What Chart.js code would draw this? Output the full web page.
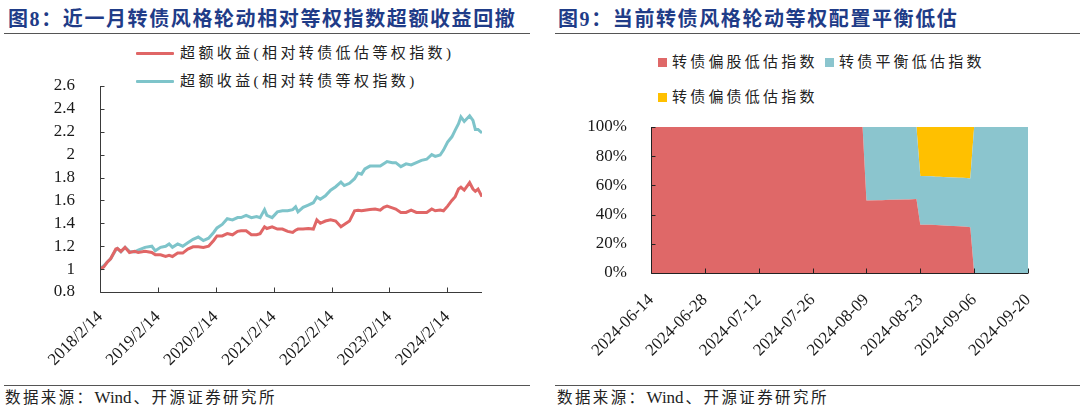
<!DOCTYPE html>
<html lang="zh-CN">
<head>
<meta charset="utf-8">
<title>转债风格轮动</title>
<script src="https://cdn.jsdelivr.net/npm/chart.js@4.4.1/dist/chart.umd.min.js"></script>
<style>
  html, body { margin: 0; padding: 0; background: #fff; }
  body { width: 1080px; height: 417px; position: relative; overflow: hidden;
         font-family: 'Liberation Serif', 'Noto Sans CJK SC', serif; color: #1a1a1a; }
  .title { position: absolute; top: 6px; font-size: 20px; font-weight: bold; color: #1F3C88;
           letter-spacing: 1.6px; white-space: nowrap; line-height: 26px; }
  .rule { position: absolute; height: 0; border-top: 1.5px solid #555; }
  .source { position: absolute; top: 388px; font-size: 15.5px; letter-spacing: 2.4px; color: #222;
            white-space: nowrap; line-height: 20px; }
  .source .latin { letter-spacing: 0; font-size: 17px; margin-right: 2px; }
  .chart-box { position: absolute; top: 40px; height: 340px; }
  .legend-item { position: absolute; font-size: 15px; letter-spacing: 3.4px; white-space: nowrap;
                 line-height: 20px; color: #222; }
  .swatch-line { position: absolute; height: 3px; border-radius: 1px; }
  .swatch-box { position: absolute; width: 9px; height: 9px; }
</style>
</head>
<body>

<div class="title" style="left:8px">图8：近一月转债风格轮动相对等权指数超额收益回撤</div>
<div class="rule" style="left:4px;width:526px;top:33px"></div>
<div class="title" style="left:558px">图9：当前转债风格轮动等权配置平衡低估</div>
<div class="rule" style="left:555px;width:525px;top:33px"></div>

<div id="legend-excess"></div>
<div id="legend-style"></div>

<div class="chart-box" style="left:0;width:540px"><canvas id="excessChart"></canvas></div>
<div class="chart-box" style="left:545px;width:535px"><canvas id="styleChart"></canvas></div>

<div class="rule" style="left:4px;width:526px;top:385px"></div>
<div class="rule" style="left:555px;width:525px;top:385px"></div>
<div class="source" style="left:5px">数据来源：<span class="latin">Wind</span>、开源证券研究所</div>
<div class="source" style="left:557px">数据来源：<span class="latin">Wind</span>、开源证券研究所</div>

<script>
// ---------- 图8 data ----------
const excessNames = ['超额收益(相对转债低估等权指数)', '超额收益(相对转债等权指数)'];
const excessColors = ['#E06666', '#7EC4CA'];
const excessTicks = ['2018/2/14', '2019/2/14', '2020/2/14', '2021/2/14', '2022/2/14', '2023/2/14', '2024/2/14'];
const excessDates = ['2018-02-14','2018-03-10','2018-03-31','2018-04-22','2018-05-25','2018-06-04','2018-06-26','2018-07-22','2018-08-19','2018-09-21',
  '2018-10-13','2018-11-25','2019-01-07','2019-01-29','2019-03-03','2019-04-04','2019-04-26','2019-05-17','2019-06-19','2019-07-21',
  '2019-08-22','2019-09-24','2019-10-27','2019-11-28','2019-12-31','2020-02-01','2020-02-22','2020-03-26','2020-04-27','2020-05-30',
  '2020-07-01','2020-07-23','2020-08-24','2020-09-26','2020-10-29','2020-11-20','2020-12-18','2021-01-02','2021-02-04','2021-03-09',
  '2021-04-10','2021-05-13','2021-06-14','2021-07-02','2021-07-17','2021-08-18','2021-09-20','2021-10-22','2021-11-13','2021-12-05',
  '2022-01-06','2022-02-08','2022-03-12','2022-04-14','2022-05-05','2022-06-07','2022-07-09','2022-07-31','2022-08-22','2022-09-12',
  '2022-10-14','2022-11-16','2022-12-18','2023-01-09','2023-01-30','2023-03-04','2023-03-26','2023-04-27','2023-05-30','2023-07-01',
  '2023-08-03','2023-09-04','2023-10-07','2023-11-08','2023-11-30','2023-12-31','2024-01-21','2024-02-16','2024-03-14','2024-04-04',
  '2024-04-25','2024-05-10','2024-05-31','2024-07-04','2024-07-25','2024-08-09','2024-08-26','2024-09-20'];
const excessVsLowValue = [1.00,1.02,1.06,1.09,1.175,1.18,1.155,1.19,1.145,1.155,
  1.145,1.155,1.145,1.125,1.125,1.11,1.12,1.11,1.14,1.14,
  1.175,1.195,1.195,1.19,1.20,1.25,1.29,1.29,1.31,1.30,
  1.33,1.335,1.335,1.30,1.30,1.31,1.37,1.355,1.37,1.35,
  1.35,1.33,1.32,1.34,1.35,1.35,1.355,1.35,1.43,1.40,
  1.42,1.43,1.42,1.37,1.39,1.42,1.51,1.515,1.51,1.515,
  1.52,1.525,1.515,1.54,1.55,1.535,1.525,1.495,1.495,1.515,
  1.495,1.495,1.495,1.525,1.51,1.516,1.51,1.55,1.60,1.633,
  1.70,1.715,1.69,1.755,1.70,1.68,1.70,1.633];
const excessVsEqual = [1.00,1.03,1.06,1.09,1.17,1.18,1.15,1.19,1.155,1.15,
  1.165,1.19,1.20,1.16,1.19,1.20,1.22,1.19,1.22,1.20,
  1.23,1.26,1.28,1.25,1.27,1.32,1.36,1.39,1.44,1.43,
  1.45,1.45,1.47,1.45,1.46,1.45,1.52,1.47,1.45,1.50,
  1.51,1.51,1.52,1.545,1.50,1.54,1.56,1.58,1.63,1.61,
  1.64,1.69,1.72,1.76,1.73,1.75,1.79,1.84,1.83,1.875,
  1.90,1.90,1.90,1.92,1.94,1.93,1.93,1.895,1.92,1.91,
  1.93,1.95,1.96,2.00,1.985,1.997,2.04,2.11,2.156,2.215,
  2.27,2.33,2.29,2.34,2.30,2.22,2.22,2.19];

// ---------- 图9 data (%) ----------
const styleNames = ['转债偏股低估指数', '转债平衡低估指数', '转债偏债低估指数'];
const styleColors = ['#DF6868', '#8BC5CE', '#FFC000'];
const styleTicks = ['2024-06-14', '2024-06-28', '2024-07-12', '2024-07-26', '2024-08-09', '2024-08-23', '2024-09-06', '2024-09-20'];
const styleDates = ['2024-06-14','2024-06-17','2024-06-18','2024-06-19','2024-06-20','2024-06-21','2024-06-24','2024-06-25','2024-06-26','2024-06-27',
  '2024-06-28','2024-07-01','2024-07-02','2024-07-03','2024-07-04','2024-07-05','2024-07-08','2024-07-09','2024-07-10','2024-07-11',
  '2024-07-12','2024-07-15','2024-07-16','2024-07-17','2024-07-18','2024-07-19','2024-07-22','2024-07-23','2024-07-24','2024-07-25',
  '2024-07-26','2024-07-29','2024-07-30','2024-07-31','2024-08-01','2024-08-02','2024-08-05','2024-08-06','2024-08-07','2024-08-08',
  '2024-08-09','2024-08-12','2024-08-13','2024-08-14','2024-08-15','2024-08-16','2024-08-19','2024-08-20','2024-08-21','2024-08-22',
  '2024-08-23','2024-08-26','2024-08-27','2024-08-28','2024-08-29','2024-08-30','2024-09-02','2024-09-03','2024-09-04','2024-09-05',
  '2024-09-06','2024-09-09','2024-09-10','2024-09-11','2024-09-12','2024-09-13','2024-09-18','2024-09-19','2024-09-20'];
const equityLow = [100,100,100,100,100,100,100,100,100,100,
  100,100,100,100,100,100,100,100,100,100,
  100,100,100,100,100,100,100,100,100,100,
  100,100,100,100,100,100,100,100,100,100,
  49.7,49.8,49.8,50.0,50.1,50.1,50.3,50.4,50.5,50.6,
  33.1,33.0,32.8,32.7,32.5,32.3,32.1,31.9,31.6,31.3,
  0,0,0,0,0,0,0,0,0];
const balancedLow = [0,0,0,0,0,0,0,0,0,0,
  0,0,0,0,0,0,0,0,0,0,
  0,0,0,0,0,0,0,0,0,0,
  0,0,0,0,0,0,0,0,0,0,
  50.3,50.2,50.2,50.0,49.9,49.9,49.7,49.6,49.5,49.4,
  33.3,33.2,33.2,33.2,33.2,33.2,33.2,33.3,33.4,33.5,
  100,100,100,100,100,100,100,100,100];
const bondLow = [0,0,0,0,0,0,0,0,0,0,
  0,0,0,0,0,0,0,0,0,0,
  0,0,0,0,0,0,0,0,0,0,
  0,0,0,0,0,0,0,0,0,0,
  0,0,0,0,0,0,0,0,0,0,
  33.6,33.8,34.0,34.1,34.3,34.5,34.7,34.8,35.0,35.2,
  0,0,0,0,0,0,0,0,0];

// day offsets on a linear axis
const DAY = 86400000;
function dayFrom(base, iso) { return (Date.parse(iso) - Date.parse(base)) / DAY; }
function slashToIso(s) {
  const [y, m, d] = s.split('/');
  return `${y}-${m.padStart(2, '0')}-${d.padStart(2, '0')}`;
}

const tickFont = { family: "'Liberation Serif', 'Times New Roman', serif", size: 17 };

// axis lines with short inward ticks, drawn over the data
const innerAxes = {
  id: 'innerAxes',
  afterDatasetsDraw(chart, args, opts) {
    const { ctx, chartArea: a, scales: { x, y } } = chart;
    ctx.save();
    ctx.strokeStyle = opts.color || '#333';
    ctx.lineWidth = 1;
    ctx.beginPath();
    const left = Math.round(a.left) + 0.5;
    const bottom = Math.round(a.bottom) + 0.5;
    ctx.moveTo(left, Math.round(a.top));
    ctx.lineTo(left, bottom);
    ctx.lineTo(Math.round(a.right), bottom);
    x.ticks.forEach(t => {
      const px = Math.round(x.getPixelForValue(t.value)) + 0.5;
      ctx.moveTo(px, bottom);
      ctx.lineTo(px, bottom - 5);
    });
    y.ticks.forEach(t => {
      const py = Math.round(y.getPixelForValue(t.value)) + 0.5;
      ctx.moveTo(left, py);
      ctx.lineTo(left + 4, py);
    });
    ctx.stroke();
    ctx.restore();
  }
};

// ---------- legends (HTML) ----------
function buildLegends() {
  const lineLegend = document.getElementById('legend-excess');
  const lineRows = [53, 81];
  excessNames.forEach((name, i) => {
    const sw = document.createElement('div');
    sw.className = 'swatch-line';
    sw.style.cssText = `left:136px;width:38px;top:${lineRows[i] - 1.5}px;background:${excessColors[i]}`;
    lineLegend.appendChild(sw);
    const label = document.createElement('div');
    label.className = 'legend-item';
    label.style.cssText = `left:180px;top:${lineRows[i] - 10}px`;
    label.textContent = name;
    lineLegend.appendChild(label);
  });

  const boxLegend = document.getElementById('legend-style');
  const spots = [[658, 62], [825, 62], [658, 97]];
  styleNames.forEach((name, i) => {
    const [lx, ly] = spots[i];
    const sw = document.createElement('div');
    sw.className = 'swatch-box';
    sw.style.cssText = `left:${lx}px;top:${ly - 4.5}px;background:${styleColors[i]}`;
    boxLegend.appendChild(sw);
    const label = document.createElement('div');
    label.className = 'legend-item';
    label.style.cssText = `left:${lx + 14}px;top:${ly - 10}px;letter-spacing:3.2px`;
    label.textContent = name;
    boxLegend.appendChild(label);
  });
}

// ---------- 图8 chart ----------
function drawExcessChart() {
  const base = excessDates[0];
  const tickValues = excessTicks.map(s => dayFrom(base, slashToIso(s)));
  const series = [excessVsLowValue, excessVsEqual];
  new Chart(document.getElementById('excessChart'), {
    type: 'line',
    data: {
      datasets: series.map((vals, i) => ({
        label: excessNames[i],
        data: vals.map((v, k) => ({ x: dayFrom(base, excessDates[k]), y: v })),
        borderColor: excessColors[i],
        borderWidth: 3,
        pointRadius: 0,
        tension: 0,
        fill: false
      }))
    },
    options: {
      responsive: true,
      maintainAspectRatio: false,
      animation: false,
      layout: { padding: { top: 46, right: 58, left: 0, bottom: 0 } },
      plugins: { legend: { display: false }, tooltip: { enabled: false }, innerAxes: { color: '#3a3a3a' } },
      scales: {
        x: {
          type: 'linear',
          min: 0,
          max: dayFrom(base, excessDates[excessDates.length - 1]),
          grid: { display: false },
          border: { display: false },
          afterBuildTicks: scale => { scale.ticks = tickValues.map(v => ({ value: v })); },
          afterFit: scale => { scale.height = 88; },
          ticks: {
            autoSkip: false,
            maxRotation: 45,
            minRotation: 45,
            padding: 7,
            color: '#1a1a1a',
            font: tickFont,
            callback: (v, i) => excessTicks[i]
          }
        },
        y: {
          min: 0.8,
          max: 2.6,
          grid: { display: false },
          border: { display: false },
          afterFit: scale => { scale.width = 100; },
          ticks: {
            autoSkip: false,
            stepSize: 0.2,
            padding: 17,
            color: '#1a1a1a',
            font: tickFont,
            callback: v => String(Number(v.toFixed(1)))
          }
        }
      }
    },
    plugins: [innerAxes]
  });
}

// ---------- 图9 chart ----------
function drawStyleChart() {
  const base = styleTicks[0];
  const tickValues = styleTicks.map(s => dayFrom(base, s));
  const series = [equityLow, balancedLow, bondLow];
  new Chart(document.getElementById('styleChart'), {
    type: 'line',
    data: {
      datasets: series.map((vals, i) => ({
        label: styleNames[i],
        data: vals.map((v, k) => ({ x: dayFrom(base, styleDates[k]), y: v })),
        borderWidth: 0,
        borderColor: styleColors[i],
        backgroundColor: styleColors[i],
        pointRadius: 0,
        tension: 0,
        fill: i === 0 ? 'origin' : '-1'
      }))
    },
    options: {
      responsive: true,
      maintainAspectRatio: false,
      animation: false,
      layout: { padding: { top: 87, right: 52, left: 0, bottom: 0 } },
      plugins: { legend: { display: false }, tooltip: { enabled: false }, innerAxes: { color: '#222' } },
      scales: {
        x: {
          type: 'linear',
          min: 0,
          max: tickValues[tickValues.length - 1],
          grid: { display: false },
          border: { display: false },
          afterBuildTicks: scale => { scale.ticks = tickValues.map(v => ({ value: v })); },
          afterFit: scale => { scale.height = 107; },
          ticks: {
            autoSkip: false,
            maxRotation: 45,
            minRotation: 45,
            padding: 9,
            color: '#1a1a1a',
            font: tickFont,
            callback: (v, i) => styleTicks[i]
          }
        },
        y: {
          stacked: true,
          min: 0,
          max: 100,
          grid: { display: false },
          border: { display: false },
          afterFit: scale => { scale.width = 106; },
          ticks: {
            autoSkip: false,
            stepSize: 20,
            padding: 16,
            color: '#1a1a1a',
            font: tickFont,
            callback: v => v + '%'
          }
        }
      }
    },
    plugins: [innerAxes]
  });
}

document.addEventListener('DOMContentLoaded', () => {
  buildLegends();
  drawExcessChart();
  drawStyleChart();
});
</script>
</body>
</html>
